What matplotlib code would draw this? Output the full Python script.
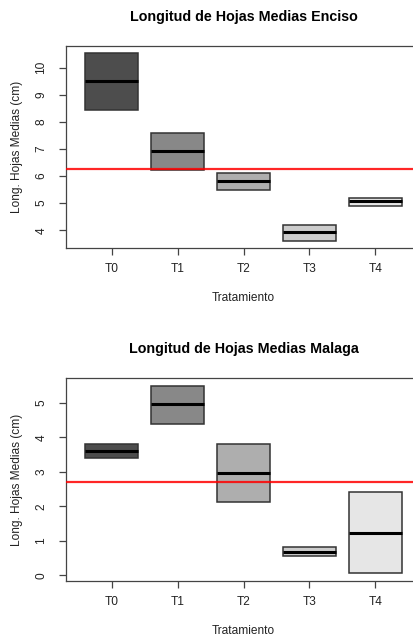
import matplotlib
matplotlib.use("Agg")
import matplotlib.pyplot as plt
from matplotlib.patches import Rectangle

plt.rcParams['font.family'] = ['Liberation Sans', 'DejaVu Sans']

categories = ["T0", "T1", "T2", "T3", "T4"]
colors = ["#4D4D4D", "#888888", "#AEAEAE", "#CCCCCC", "#E6E6E6"]

# Enciso
enciso_low = [8.45, 6.21, 5.50, 3.62, 4.90]
enciso_med = [9.49, 6.91, 5.80, 3.93, 5.06]
enciso_high = [10.52, 7.58, 6.10, 4.21, 5.18]
enciso_mean = 6.24
enciso_yticks = [4, 5, 6, 7, 8, 9, 10]

# Malaga
malaga_low = [3.39, 4.40, 2.14, 0.55, 0.06]
malaga_med = [3.60, 4.96, 2.97, 0.67, 1.24]
malaga_high = [3.82, 5.50, 3.81, 0.82, 2.41]
malaga_mean = 2.71
malaga_yticks = [0, 1, 2, 3, 4, 5]

titles = ["Longitud de Hojas Medias Enciso", "Longitud de Hojas Medias Malaga"]

W, H = 414, 639
fig = plt.figure(figsize=(W / 100, H / 100), dpi=100)

def panel(rect, low, med, high, mean, yticks, title):
    ax = fig.add_axes(rect)
    n = len(categories)
    for i in range(n):
        x = i + 1
        ax.add_patch(Rectangle((x - 0.4, low[i]), 0.8, high[i] - low[i],
                               facecolor=colors[i], edgecolor="#333333",
                               linewidth=1.1, zorder=2))
        ax.plot([x - 0.4, x + 0.4], [med[i], med[i]], color="black",
                linewidth=2.2, solid_capstyle="butt", zorder=3)
    ax.axhline(mean, color="red", linewidth=1.6, alpha=0.85, zorder=4)
    ymin, ymax = min(low), max(high)
    ext = 0.04 * (ymax - ymin)
    ax.set_ylim(ymin - ext, ymax + ext)
    ax.set_xlim(0.3, 5.7)
    ax.set_xticks(range(1, n + 1))
    ax.set_xticklabels(categories)
    ax.set_yticks(yticks)
    ax.set_yticklabels([str(t) for t in yticks], rotation=90, va="center")
    ax.tick_params(axis="both", direction="out", length=5, width=0.9,
                   color="#444444", labelsize=8.6, labelcolor="#222222")
    ax.tick_params(axis="x", pad=6)
    ax.tick_params(axis="y", pad=8)
    for s in ax.spines.values():
        s.set_color("#444444")
        s.set_linewidth(0.9)
    ax.set_xlabel("Tratamiento", fontsize=8.6, color="#222222", va="center")
    ax.xaxis.set_label_coords(0.5, -50 / 202)
    ax.set_ylabel("Long. Hojas Medias (cm)", fontsize=8.6, color="#222222", va="center")
    ax.yaxis.set_label_coords((16.7 - 65.5) / 356, 0.5)
    ax.text(0.5, 1 + 29 / 202, title, transform=ax.transAxes, ha="center",
            va="center", fontsize=10.3, fontweight="bold", color="black")
    return ax

left = 65.5 / W
width = 356 / W
panel([left, 1 - 248 / H, width, 202 / H], enciso_low, enciso_med, enciso_high,
      enciso_mean, enciso_yticks, titles[0])
panel([left, 1 - 580.7 / H, width, 202.4 / H], malaga_low, malaga_med, malaga_high,
      malaga_mean, malaga_yticks, titles[1])

fig.savefig("out.png", dpi=100)
